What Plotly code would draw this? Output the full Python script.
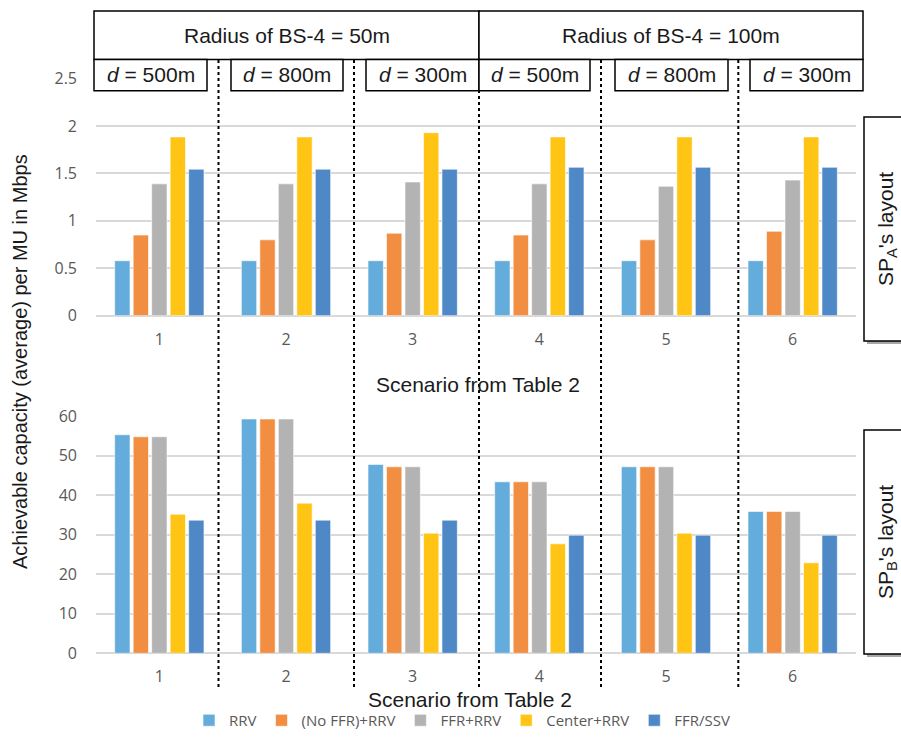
import plotly.graph_objects as go
from plotly.subplots import make_subplots

W, H = 901, 737

scenarios = ["1", "2", "3", "4", "5", "6"]
series_names = ["RRV", "(No FFR)+RRV", "FFR+RRV", "Center+RRV", "FFR/SSV"]
colors = ["#64ACDC", "#F28E42", "#B3B3B3", "#FFC414", "#4F88C6"]

# SP_A's layout (top panel)
spA_rrv = [0.58, 0.58, 0.58, 0.58, 0.58, 0.58]
spA_noffr = [0.85, 0.80, 0.87, 0.85, 0.80, 0.89]
spA_ffr = [1.39, 1.39, 1.41, 1.39, 1.365, 1.43]
spA_center = [1.885, 1.885, 1.93, 1.885, 1.885, 1.885]
spA_ffrssv = [1.545, 1.545, 1.545, 1.565, 1.565, 1.565]

# SP_B's layout (bottom panel)
spB_rrv = [55.3, 59.3, 47.8, 43.4, 47.2, 35.9]
spB_noffr = [54.8, 59.3, 47.2, 43.4, 47.2, 35.9]
spB_ffr = [54.8, 59.3, 47.2, 43.4, 47.2, 35.9]
spB_center = [35.2, 38.0, 30.4, 27.7, 30.4, 22.9]
spB_ffrssv = [33.7, 33.7, 33.7, 29.9, 29.9, 29.9]

top_ticks = [0, 0.5, 1, 1.5, 2, 2.5]
bottom_ticks = [0, 10, 20, 30, 40, 50, 60]

radius_labels = ["Radius of BS-4 = 50m", "Radius of BS-4 = 100m"]
d_labels = ["<i>d</i> = 500m", "<i>d</i> = 800m", "<i>d</i> = 300m",
            "<i>d</i> = 500m", "<i>d</i> = 800m", "<i>d</i> = 300m"]
x_title = "Scenario from Table 2"
y_title = "Achievable capacity (average) per MU in Mbps"


def px(x):
    return x / W


def py(y):
    return 1 - y / H


fig = make_subplots(rows=2, cols=1)

top_data = [spA_rrv, spA_noffr, spA_ffr, spA_center, spA_ffrssv]
bot_data = [spB_rrv, spB_noffr, spB_ffr, spB_center, spB_ffrssv]
for i, name in enumerate(series_names):
    fig.add_trace(go.Bar(x=scenarios, y=top_data[i], name=name,
                         marker=dict(color=colors[i], line=dict(color="rgba(255,255,255,0.6)", width=1)),
                         legendgroup=name, showlegend=True), row=1, col=1)
for i, name in enumerate(series_names):
    fig.add_trace(go.Bar(x=scenarios, y=bot_data[i], name=name,
                         marker=dict(color=colors[i], line=dict(color="rgba(255,255,255,0.6)", width=1)),
                         legendgroup=name, showlegend=False), row=2, col=1)

tickfont = dict(family="Open Sans", size=16, color="#595959")
xdom = [px(96), px(856)]
fig.update_layout(
    width=W, height=H,
    margin=dict(l=0, r=0, t=0, b=0, autoexpand=False),
    paper_bgcolor="white", plot_bgcolor="white",
    barmode="group", bargap=0.27, bargroupgap=0.17,
    showlegend=True,
    legend=dict(orientation="h", x=px(462), xanchor="center", y=0, yanchor="bottom",
                font=dict(family="Open Sans", size=15, color="#595959"),
                itemwidth=30, tracegroupgap=0, bgcolor="rgba(0,0,0,0)"),
    xaxis=dict(domain=xdom, anchor="y", showgrid=False, ticks="", showline=False,
               tickfont=tickfont, ticklabelstandoff=12),
    xaxis2=dict(domain=xdom, anchor="y2", showgrid=False, ticks="", showline=False,
                tickfont=tickfont, ticklabelstandoff=12),
    yaxis=dict(domain=[py(315.7), py(78.6)], range=[0, 2.5], tickvals=top_ticks,
               ticktext=[("%g" % v) for v in top_ticks],
               showgrid=True, gridcolor="#D9D9D9", gridwidth=1.5,
               zeroline=True, zerolinecolor="#D9D9D9", zerolinewidth=1.5,
               tickfont=tickfont, ticks="", ticklabelstandoff=18),
    yaxis2=dict(domain=[py(653.3), py(416.2)], range=[0, 60], tickvals=bottom_ticks,
                showgrid=True, gridcolor="#D9D9D9", gridwidth=1.5,
                zeroline=True, zerolinecolor="#D9D9D9", zerolinewidth=1.5,
                tickfont=tickfont, ticks="", ticklabelstandoff=18),
)

shapes = []
annotations = []
hdr_font = dict(family="Liberation Sans", size=21, color="#1a1a1a")

# dotted separators
for xs in [218.5, 354, 479, 601, 738.3]:
    shapes.append(dict(type="line", xref="paper", yref="paper",
                       x0=px(xs), x1=px(xs), y0=py(60), y1=py(690),
                       line=dict(color="black", width=2, dash="dot"), layer="above"))

# header big boxes
for (x0, x1), lab in zip([(94, 479), (479, 863)], radius_labels):
    shapes.append(dict(type="rect", xref="paper", yref="paper",
                       x0=px(x0), x1=px(x1), y0=py(59.5), y1=py(11),
                       line=dict(color="black", width=1.5), fillcolor="white", layer="above"))
    annotations.append(dict(xref="paper", yref="paper", x=px((x0 + x1) / 2), y=py(35),
                            text=lab, showarrow=False, font=hdr_font,
                            xanchor="center", yanchor="middle"))

# d boxes
d_boxes = [(94, 207), (231, 343), (366, 479), (479, 590), (615, 728), (750, 863)]
for (x0, x1), lab in zip(d_boxes, d_labels):
    shapes.append(dict(type="rect", xref="paper", yref="paper",
                       x0=px(x0), x1=px(x1), y0=py(90.7), y1=py(59.5),
                       line=dict(color="black", width=1.5), fillcolor="white", layer="above"))
    annotations.append(dict(xref="paper", yref="paper", x=px((x0 + x1) / 2), y=py(75),
                            text=lab, showarrow=False, font=hdr_font,
                            xanchor="center", yanchor="middle"))

# right side boxes with shadow
for (y0, y1), lab in zip([(117, 341), (430, 654)],
                         ["SP<sub>A</sub>'s layout", "SP<sub>B</sub>'s layout"]):
    shapes.append(dict(type="rect", xref="paper", yref="paper",
                       x0=px(867), x1=px(910), y0=py(y1 + 3), y1=py(y0 + 3),
                       line=dict(width=0), fillcolor="#a8a8a8", layer="above"))
    shapes.append(dict(type="rect", xref="paper", yref="paper",
                       x0=px(864), x1=px(910), y0=py(y1), y1=py(y0),
                       line=dict(color="black", width=1.5), fillcolor="white", layer="above"))
    annotations.append(dict(xref="paper", yref="paper", x=px(887), y=py((y0 + y1) / 2),
                            text=lab, showarrow=False, textangle=-90, font=hdr_font,
                            xanchor="center", yanchor="middle"))

# axis titles
title_font = dict(family="Liberation Sans", size=21, color="#1a1a1a")
annotations.append(dict(xref="paper", yref="paper", x=px(478), y=py(385), text=x_title,
                        showarrow=False, font=title_font, xanchor="center", yanchor="middle"))
annotations.append(dict(xref="paper", yref="paper", x=px(470), y=py(699), text=x_title,
                        showarrow=False, font=title_font, xanchor="center", yanchor="middle"))
annotations.append(dict(xref="paper", yref="paper", x=px(20), y=py(362), text=y_title,
                        showarrow=False, textangle=-90, font=dict(family="Liberation Sans", size=20, color="#1a1a1a"),
                        xanchor="center", yanchor="middle"))

fig.update_layout(shapes=shapes, annotations=annotations)
fig.write_html("out.html")
